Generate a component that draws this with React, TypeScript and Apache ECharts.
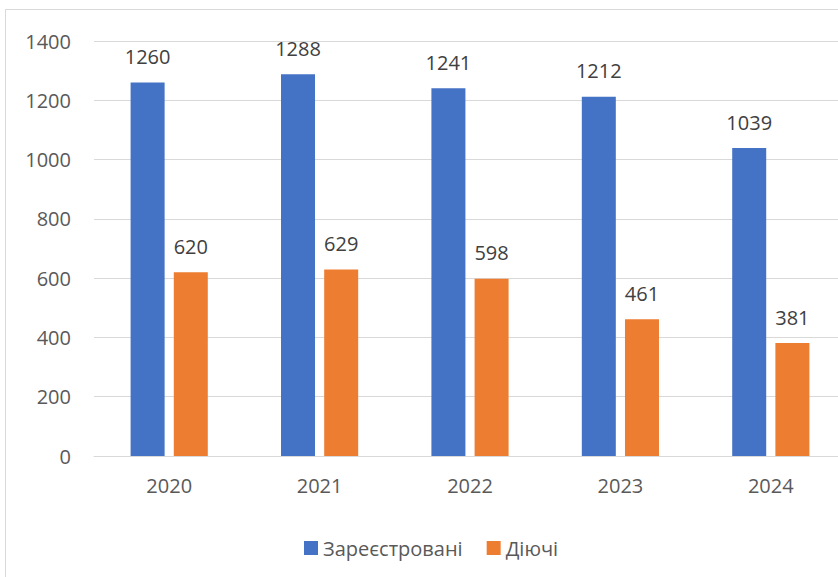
import React, { useEffect, useRef } from "react";
import * as echarts from "echarts";

const categories = ["2020", "2021", "2022", "2023", "2024"];
const registered = [1260, 1288, 1241, 1212, 1039];
const active = [620, 629, 598, 461, 381];
const seriesNames = ["Зареєстровані", "Діючі"];

const FONT = "'Open Sans', 'Noto Sans', sans-serif";
const FS = 20;

export default function App() {
  const ref = useRef<HTMLDivElement>(null);
  useEffect(() => {
    document.body.style.margin = "0";
    if (!ref.current) return;
    const chart = echarts.init(ref.current, null, { renderer: "svg" });
    chart.setOption({
      animation: false,
      backgroundColor: "#ffffff",
      textStyle: { fontFamily: FONT },
      graphic: [
        {
          type: "rect",
          shape: { x: 5.5, y: 9.5, width: 950, height: 700 },
          style: { fill: "none", stroke: "#D9D9D9", lineWidth: 1 },
          silent: true,
        },
      ],
      grid: { left: 94, top: 41, width: 752, height: 415, containLabel: false },
      legend: {
        top: 533,
        left: 299,
        itemWidth: 14,
        itemHeight: 14,
        itemGap: 24,
        icon: "rect",
        textStyle: { fontSize: FS, color: "#595959", fontFamily: FONT },
        data: seriesNames,
      },
      xAxis: {
        type: "category",
        data: categories,
        axisLine: { lineStyle: { color: "#D9D9D9" } },
        axisTick: { show: false },
        axisLabel: { fontSize: FS, color: "#595959", margin: 19, fontFamily: FONT },
      },
      yAxis: {
        type: "value",
        min: 0,
        max: 1400,
        interval: 200,
        axisLine: { show: false },
        axisTick: { show: false },
        splitLine: { lineStyle: { color: "#D9D9D9" } },
        axisLabel: {
          fontSize: FS,
          color: "#595959",
          margin: 23,
          fontFamily: FONT,
          formatter: (v: number) => String(v),
        },
      },
      series: [
        {
          name: seriesNames[0],
          type: "bar",
          data: registered,
          barWidth: 34,
          barGap: "27%",
          itemStyle: { color: "#4472C4" },
          label: { show: true, position: "top", distance: 16, fontSize: FS, color: "#404040", fontFamily: FONT },
        },
        {
          name: seriesNames[1],
          type: "bar",
          data: active,
          barWidth: 34,
          barGap: "27%",
          itemStyle: { color: "#ED7D31" },
          label: { show: true, position: "top", distance: 16, fontSize: FS, color: "#404040", fontFamily: FONT },
        },
      ],
    });
    return () => chart.dispose();
  }, []);
  return (
    <div style={{ width: 838, height: 577, overflow: "hidden" }}>
      <div ref={ref} style={{ width: 900, height: 577 }} />
    </div>
  );
}
